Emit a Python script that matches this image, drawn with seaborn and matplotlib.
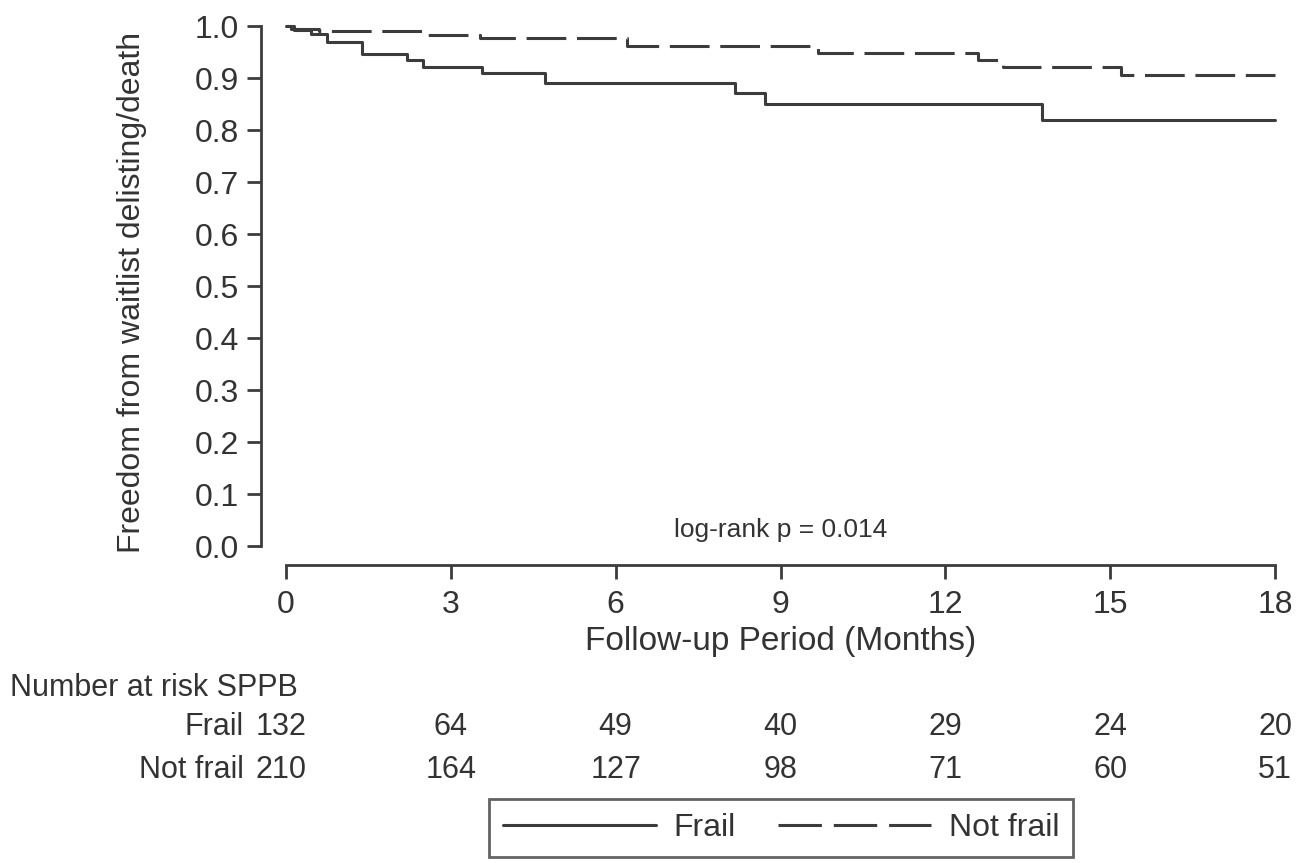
import numpy as np
import pandas as pd
import matplotlib
matplotlib.use("Agg")
import matplotlib.pyplot as plt
import seaborn as sns
from matplotlib.lines import Line2D

# ---- data ----
frail_time = [0, 0.15, 0.45, 0.75, 1.38, 2.2, 2.5, 3.57, 4.71, 8.17, 8.72, 13.76, 18]
frail_surv = [1.0, 0.992, 0.985, 0.970, 0.947, 0.935, 0.922, 0.909, 0.891, 0.872, 0.850, 0.819, 0.819]
notfrail_time = [0, 0.1, 0.6, 2.58, 3.53, 6.2, 9.68, 12.6, 13.05, 15.2, 18]
notfrail_surv = [1.0, 0.995, 0.990, 0.983, 0.976, 0.9615, 0.949, 0.935, 0.922, 0.906, 0.906]

risk_times = [0, 3, 6, 9, 12, 15, 18]
risk_frail = [132, 64, 49, 40, 29, 24, 20]
risk_notfrail = [210, 164, 127, 98, 71, 60, 51]

x_ticks = [0, 3, 6, 9, 12, 15, 18]
y_ticks = [0.0, 0.1, 0.2, 0.3, 0.4, 0.5, 0.6, 0.7, 0.8, 0.9, 1.0]
groups = ["Frail", "Not frail"]

sns.set_theme(style="ticks")
plt.rcParams["font.family"] = ["Liberation Sans", "DejaVu Sans"]

W, H = 1316, 863
FS = 23
TFS = 22
fig = plt.figure(figsize=(W / 100, H / 100), dpi=100)
ax = fig.add_axes([286 / W, 1 - 546 / H, (1275 - 286) / W, (546 - 26) / H])

line_col = "#3c3c3c"
text_col = "#333333"
dash = (0, (13, 3.5))
leg_dash = (0, (14.2, 3.9))

df_f = pd.DataFrame({"t": frail_time, "s": frail_surv})
df_n = pd.DataFrame({"t": notfrail_time, "s": notfrail_surv})
sns.lineplot(data=df_f, x="t", y="s", ax=ax, drawstyle="steps-post",
             color=line_col, lw=2.2, estimator=None, clip_on=False)
sns.lineplot(data=df_n, x="t", y="s", ax=ax, drawstyle="steps-post",
             color=line_col, lw=2.2, estimator=None, clip_on=False,
             dashes=False, linestyle=dash)

ax.set_xlim(0, 18)
ax.set_ylim(0, 1)
ax.set_xticks(x_ticks)
ax.set_yticks(y_ticks)
ax.set_yticklabels([f"{v:.1f}" for v in y_ticks])
ax.tick_params(axis="both", labelsize=FS, length=10, width=2, color=line_col,
               labelcolor=text_col)
ax.tick_params(axis="y", pad=6)
ax.tick_params(axis="x", pad=8)
sns.despine(ax=ax, offset={"left": 18, "bottom": 14}, trim=True)
for sp in ["left", "bottom"]:
    ax.spines[sp].set_linewidth(2)
    ax.spines[sp].set_color(line_col)

ax.set_xlabel("Follow-up Period (Months)", fontsize=FS + 1, color=text_col)
ax.xaxis.set_label_coords(0.5, (546 - 626) / 520)
ax.set_ylabel("Freedom from waitlist delisting/death", fontsize=FS, color=text_col)
ax.yaxis.set_label_coords((147 - 286) / 989, (546 - 292) / 520)

ax.text(9, 0.031, "log-rank p = 0.014", ha="center", va="center", fontsize=19, color=text_col)

# number at risk table
fig.text(10 / W, 1 - 688 / H, "Number at risk SPPB", fontsize=TFS, color=text_col, va="center", ha="left")
for row_y, name, vals in [(727, "Frail", risk_frail), (770, "Not frail", risk_notfrail)]:
    fig.text(244 / W, 1 - row_y / H, name, fontsize=TFS, color=text_col, va="center", ha="right")
    for t, v in zip(risk_times, vals):
        xd = ax.transData.transform((t, 0))[0]
        xf = fig.transFigure.inverted().transform((xd, 0))[0]
        if t == 0:
            xf = 281 / W
        fig.text(xf, 1 - row_y / H, str(v), fontsize=TFS, color=text_col, va="center", ha="center")

handles = [Line2D([], [], color=line_col, lw=2.2),
           Line2D([], [], color=line_col, lw=2.2, linestyle=leg_dash)]
leg = fig.legend(handles, groups, loc="center", bbox_to_anchor=(781 / W, 1 - 828 / H),
                 ncol=2, fontsize=FS, frameon=True, fancybox=False, handlelength=4.8,
                 columnspacing=1.3, borderpad=0.45, handletextpad=0.55)
leg.get_frame().set_edgecolor(line_col)
leg.get_frame().set_linewidth(2)
for t in leg.get_texts():
    t.set_color(text_col)

fig.savefig("out.png", dpi=100)
